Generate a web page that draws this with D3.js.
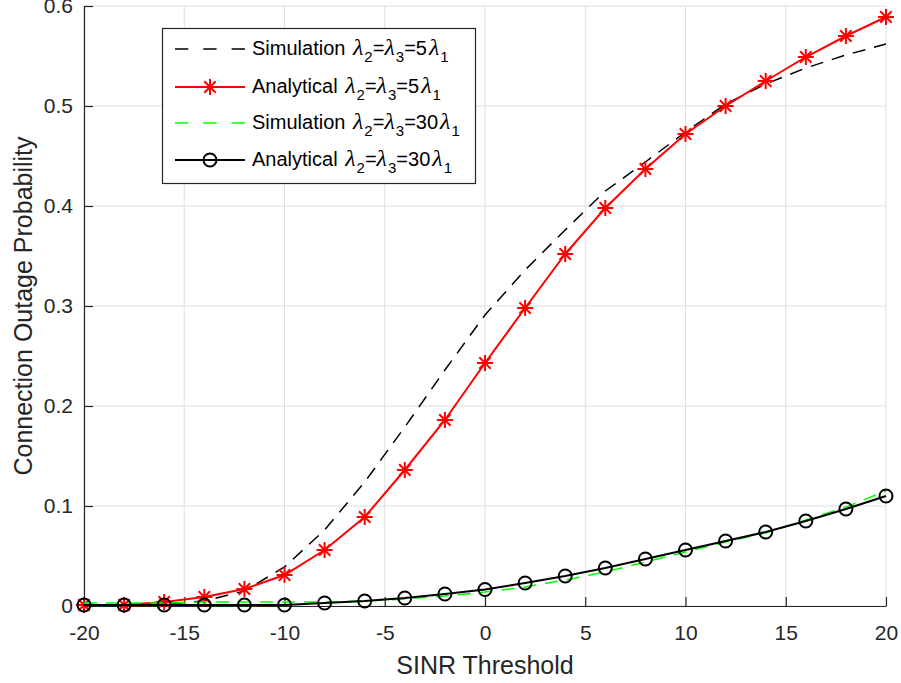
<!DOCTYPE html>
<html>
<head>
<meta charset="utf-8">
<script src="https://cdn.jsdelivr.net/npm/d3@7"></script>
<style>
  body { margin: 0; background: #fff; }
  svg { display: block; font-family: "Liberation Sans", Arial, sans-serif; }
</style>
</head>
<body>
<div id="chart"></div>
<script>
// SINR threshold (dB)
var sinr = [-20, -18, -16, -14, -12, -10, -8, -6, -4, -2, 0, 2, 4, 6, 8, 10, 12, 14, 16, 18, 20];

// series
var sim5 = [0.0005, 0.001, 0.002, 0.005, 0.015, 0.039, 0.076, 0.124, 0.179, 0.236, 0.291, 0.336, 0.376, 0.415, 0.444, 0.474, 0.502, 0.522, 0.538, 0.551, 0.562];
var ana5 = [0.001, 0.001, 0.004, 0.009, 0.017, 0.031, 0.056, 0.089, 0.136, 0.186, 0.243, 0.298, 0.352, 0.398, 0.437, 0.472, 0.500, 0.525, 0.549, 0.570, 0.589];
var sim30 = [0.003, 0.003, 0.003, 0.004, 0.004, 0.004, 0.004, 0.005, 0.007, 0.010, 0.014, 0.019, 0.026, 0.034, 0.044, 0.054, 0.064, 0.073, 0.086, 0.099, 0.115];
var ana30 = [0.001, 0.001, 0.001, 0.001, 0.001, 0.001, 0.003, 0.005, 0.008, 0.012, 0.0165, 0.023, 0.030, 0.038, 0.047, 0.056, 0.065, 0.074, 0.085, 0.097, 0.110];

var xTicks = [-20, -15, -10, -5, 0, 5, 10, 15, 20];
var yTicks = [0, 0.1, 0.2, 0.3, 0.4, 0.5, 0.6];

var width = 901, height = 683;
var axisColor = "#262626";

var svg = d3.select("#chart").append("svg")
    .attr("width", width)
    .attr("height", height);

var x = d3.scaleLinear().domain([-20, 20]).range([84, 886]);
var y = d3.scaleLinear().domain([0, 0.6]).range([606, 6]);

// grid
svg.append("g").selectAll("line.gx")
    .data(xTicks).enter().append("line")
    .attr("x1", function(d) { return x(d); })
    .attr("x2", function(d) { return x(d); })
    .attr("y1", y(0)).attr("y2", y(0.6))
    .attr("stroke", "#dfdfdf").attr("stroke-width", 1);
svg.append("g").selectAll("line.gy")
    .data(yTicks).enter().append("line")
    .attr("y1", function(d) { return y(d); })
    .attr("y2", function(d) { return y(d); })
    .attr("x1", x(-20)).attr("x2", x(20))
    .attr("stroke", "#dfdfdf").attr("stroke-width", 1);

// axes
var xAxis = d3.axisBottom(x)
    .tickValues(xTicks)
    .tickSizeInner(-9)
    .tickSizeOuter(0)
    .tickPadding(19)
    .tickFormat(function(d) { return String(d); });

var yAxis = d3.axisLeft(y)
    .tickValues(yTicks)
    .tickSizeInner(-9)
    .tickSizeOuter(0)
    .tickPadding(11)
    .tickFormat(function(d) { return String(d); });

var gx = svg.append("g")
    .attr("transform", "translate(0," + y(0) + ")")
    .call(xAxis);
var gy = svg.append("g")
    .attr("transform", "translate(" + x(-20) + ",0)")
    .call(yAxis);

[gx, gy].forEach(function(g) {
    g.select(".domain").attr("stroke", axisColor).attr("stroke-width", 1.2);
    g.selectAll(".tick line").attr("stroke", axisColor).attr("stroke-width", 1.2);
    g.selectAll(".tick text")
        .attr("fill", axisColor)
        .style("font-size", "21px")
        .style("font-family", "'Liberation Sans', Arial, sans-serif");
});

// axis titles
svg.append("text")
    .attr("x", 485).attr("y", 674)
    .attr("text-anchor", "middle")
    .attr("fill", axisColor)
    .style("font-size", "25px")
    .text("SINR Threshold");

svg.append("text")
    .attr("text-anchor", "middle")
    .attr("transform", "translate(32," + 306 + ")rotate(-90)")
    .attr("fill", axisColor)
    .style("font-size", "25px")
    .text("Connection Outage Probability");

// series
function pts(vals) {
    return sinr.map(function(s, i) { return [s, vals[i]]; });
}
var line = d3.line()
    .x(function(d) { return x(d[0]); })
    .y(function(d) { return y(d[1]); });

function asterisk(g, cx, cy, color) {
    var a = 8, b = 5.7;
    var segs = [[-a, 0, a, 0], [0, -a, 0, a], [-b, -b, b, b], [-b, b, b, -b]];
    segs.forEach(function(s) {
        g.append("line")
            .attr("x1", cx + s[0]).attr("y1", cy + s[1])
            .attr("x2", cx + s[2]).attr("y2", cy + s[3])
            .attr("stroke", color).attr("stroke-width", 2);
    });
}

var series = svg.append("g");

series.append("path")
    .attr("d", line(pts(sim5)))
    .attr("fill", "none").attr("stroke", "#000")
    .attr("stroke-width", 1.5)
    .attr("stroke-dasharray", "13,9");

series.append("path")
    .attr("d", line(pts(ana5)))
    .attr("fill", "none").attr("stroke", "#ff0000")
    .attr("stroke-width", 2);
var starG = series.append("g");
pts(ana5).forEach(function(d) { asterisk(starG, x(d[0]), y(d[1]), "#ff0000"); });

series.append("path")
    .attr("d", line(pts(sim30)))
    .attr("fill", "none").attr("stroke", "#00ff00")
    .attr("stroke-width", 1.5)
    .attr("stroke-dasharray", "13,9");

series.append("path")
    .attr("d", line(pts(ana30)))
    .attr("fill", "none").attr("stroke", "#000")
    .attr("stroke-width", 2);
series.append("g").selectAll("circle")
    .data(pts(ana30)).enter().append("circle")
    .attr("cx", function(d) { return x(d[0]); })
    .attr("cy", function(d) { return y(d[1]); })
    .attr("r", 6.5)
    .attr("fill", "none").attr("stroke", "#000").attr("stroke-width", 2);

// legend
var legendItems = [
    { label: "Simulation ", k: "5", color: "#000", dash: "13.3,15", marker: null },
    { label: "Analytical ", k: "5", color: "#ff0000", dash: null, marker: "star" },
    { label: "Simulation ", k: "30", color: "#00ff00", dash: "13.3,15", marker: null },
    { label: "Analytical ", k: "30", color: "#000", dash: null, marker: "circle" }
];
var rowY = [49, 87, 123, 160];

var legend = svg.append("g");
legend.append("rect")
    .attr("x", 162.5).attr("y", 28.5)
    .attr("width", 313).attr("height", 155)
    .attr("fill", "#fff").attr("stroke", axisColor).attr("stroke-width", 1.2);

function lambda(t, sub, gap) {
    t.append("tspan")
        .attr("dx", gap)
        .style("font-family", "'Liberation Serif', 'DejaVu Serif', serif")
        .style("font-style", "italic")
        .style("font-size", "24px")
        .text("λ");
    t.append("tspan").attr("dx", 1).attr("dy", 7).style("font-size", "15px").text(sub);
}

legendItems.forEach(function(it, i) {
    var cy = rowY[i];
    legend.append("line")
        .attr("x1", 175).attr("x2", 245)
        .attr("y1", cy).attr("y2", cy)
        .attr("stroke", it.color)
        .attr("stroke-width", it.dash ? 1.5 : 2)
        .attr("stroke-dasharray", it.dash);
    if (it.marker === "star") asterisk(legend, 210, cy, it.color);
    if (it.marker === "circle") {
        legend.append("circle").attr("cx", 210).attr("cy", cy).attr("r", 6.5)
            .attr("fill", "none").attr("stroke", "#000").attr("stroke-width", 2);
    }
    var t = legend.append("text")
        .attr("x", 252).attr("y", cy + 6)
        .attr("fill", "#000")
        .style("font-size", "20px");
    t.append("tspan").text(it.label);
    lambda(t, "2", 2);
    t.append("tspan").attr("dy", -7).text("=");
    lambda(t, "3", 0);
    t.append("tspan").attr("dy", -7).text("=" + it.k);
    lambda(t, "1", 2);
});
</script>
</body>
</html>
